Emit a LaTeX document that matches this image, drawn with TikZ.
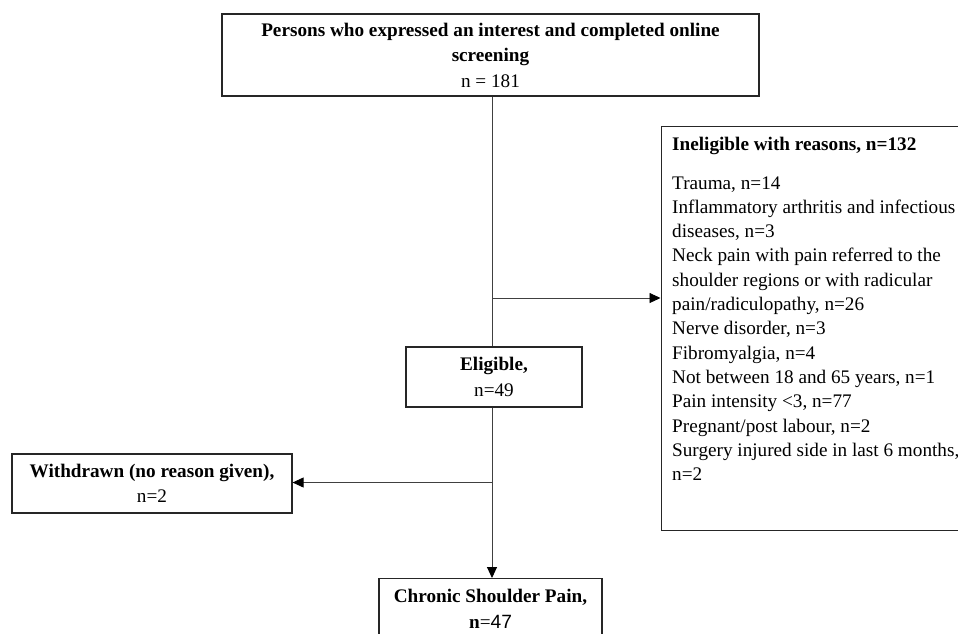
\documentclass[tikz,border=0pt]{standalone}
\usepackage{fontspec}
\setmainfont{Liberation Serif}
\newfontfamily\sansf{Liberation Sans}
\usetikzlibrary{arrows.meta}
\begin{document}
\begin{tikzpicture}[x=1pt,y=-1pt,
  box/.style={draw=black!85, line width=1.2pt, inner sep=0pt, align=center,
    font=\fontsize{19.2}{25.5}\selectfont},
  lefttxt/.style={inner sep=0pt, align=left, font=\fontsize{19.2}{24.3}\selectfont},
  conn/.style={draw=black!75, line width=0.9pt},
  arr/.style={conn, -{Triangle[length=11pt,width=10pt,color=black,fill=black]}}]
\useasboundingbox (0,0) rectangle (958,633);
% boxes
\node[box, minimum width=537pt, minimum height=82pt] (top) at (490.5,55)
  {\textbf{Persons who expressed an interest and completed online}\\
   \textbf{screening}\\ n = 181};
\node[box, minimum width=310pt, minimum height=404pt, anchor=north west] (inel) at (660.5,125.5) {};
\node[lefttxt, anchor=north west] (ineltxt) at (672,136.5)
  {\textbf{Ineligible with reasons, n=132}\\[14.7pt]
   Trauma, n=14\\
   Inflammatory arthritis and infectious\\
   diseases, n=3\\
   Neck pain with pain referred to the\\
   shoulder regions or with radicular\\
   pain/radiculopathy, n=26\\
   Nerve disorder, n=3\\
   Fibromyalgia, n=4\\
   Not between 18 and 65 years, n=1\\
   Pain intensity <3, n=77\\
   Pregnant/post labour, n=2\\
   Surgery injured side in last 6 months,\\
   n=2};
\node[box, minimum width=176pt, minimum height=60pt] (elig) at (494,377)
  {\textbf{Eligible,}\\ n=49};
\node[box, minimum width=280pt, minimum height=59pt] (withd) at (152,483.5)
  {\textbf{Withdrawn (no reason given),}\\ n=2};
\node[box, minimum width=223pt, minimum height=60pt, anchor=north] (chron) at (490.5,578)
  {\textbf{Chronic Shoulder Pain,}\\ \textbf{n}={\sansf 47}};
% connectors
\coordinate (spine) at (492,0);
\coordinate (b1) at (492,298);
\coordinate (b2) at (492,482.5);
\draw[conn] (spine |- top.south) -- (spine |- elig.north);
\draw[arr] (b1) -- (b1 -| inel.west);
\draw[arr] (spine |- elig.south) -- (spine |- chron.north);
\draw[arr] (b2) -- (b2 -| withd.east);
\end{tikzpicture}
\end{document}
